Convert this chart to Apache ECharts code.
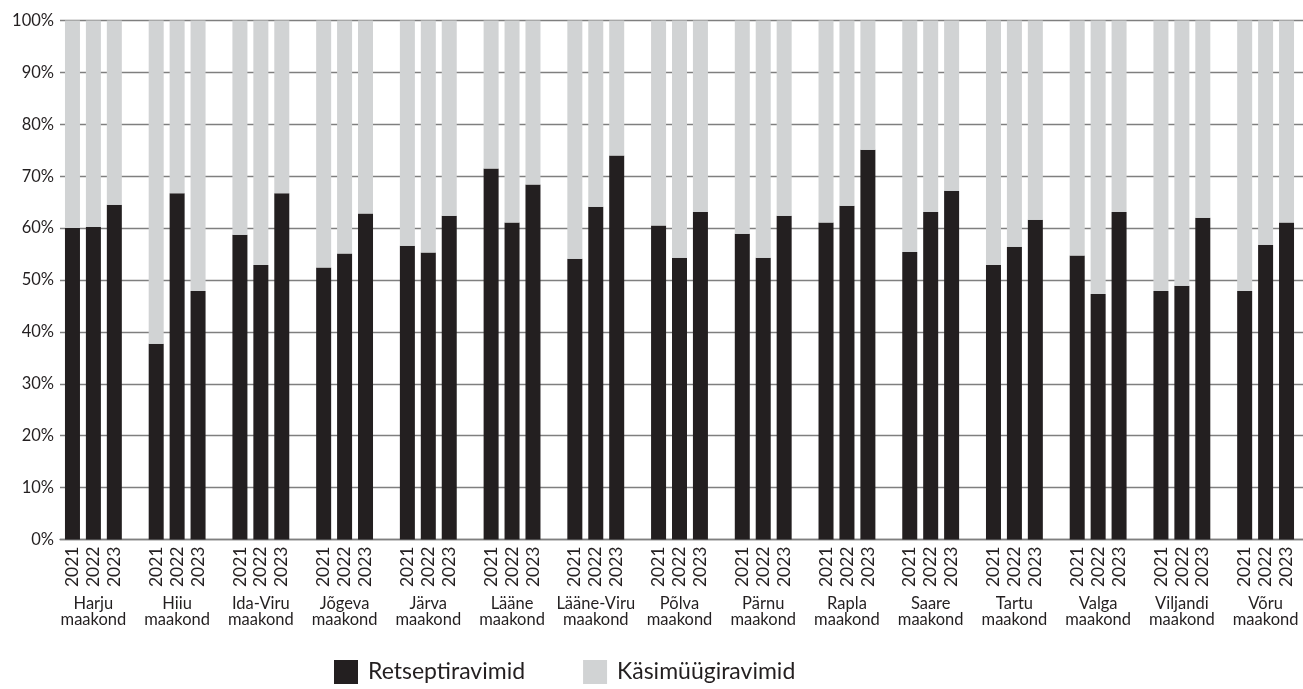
<!DOCTYPE html>
<html>
<head>
<meta charset="utf-8">
<script src="https://cdn.jsdelivr.net/npm/echarts@6/dist/echarts.min.js"></script>
<style>
  html, body { margin: 0; padding: 0; background: #ffffff; }
  #chart { width: 1303px; height: 689px; }
</style>
</head>
<body>
<div id="chart"></div>
<script>
// ---- data ----
const counties = ["Harju\nmaakond", "Hiiu\nmaakond", "Ida-Viru\nmaakond", "Jõgeva\nmaakond", "Järva\nmaakond",
  "Lääne\nmaakond", "Lääne-Viru\nmaakond", "Põlva\nmaakond", "Pärnu\nmaakond", "Rapla\nmaakond",
  "Saare\nmaakond", "Tartu\nmaakond", "Valga\nmaakond", "Viljandi\nmaakond", "Võru\nmaakond"];
const years = ["2021", "2022", "2023"];
const yTicks = [0, 10, 20, 30, 40, 50, 60, 70, 80, 90, 100];
// Retseptiravimid (%), per county: 2021, 2022, 2023
const retsept = [
  60.0, 60.2, 64.5,
  37.7, 66.7, 47.9,
  58.7, 52.9, 66.7,
  52.4, 55.1, 62.8,
  56.6, 55.3, 62.4,
  71.5, 61.1, 68.4,
  54.1, 64.1, 74.0,
  60.5, 54.3, 63.1,
  58.9, 54.3, 62.4,
  61.1, 64.3, 75.1,
  55.4, 63.1, 67.2,
  52.9, 56.4, 61.6,
  54.7, 47.3, 63.1,
  47.9, 48.9, 62.0,
  47.9, 56.8, 61.1
];
// Käsimüügiravimid (%), per county: 2021, 2022, 2023
const kasimuuk = [
  40.0, 39.8, 35.5,
  62.3, 33.3, 52.1,
  41.3, 47.1, 33.3,
  47.6, 44.9, 37.2,
  43.4, 44.7, 37.6,
  28.5, 38.9, 31.6,
  45.9, 35.9, 26.0,
  39.5, 45.7, 36.9,
  41.1, 45.7, 37.6,
  38.9, 35.7, 24.9,
  44.6, 36.9, 32.8,
  47.1, 43.6, 38.4,
  45.3, 52.7, 36.9,
  52.1, 51.1, 38.0,
  52.1, 43.2, 38.9
];
const seriesNames = ["Retseptiravimid", "Käsimüügiravimid"];

// ---- build category slots (3 years + blank gap between counties) ----
const yearCats = [], countyCats = [], retData = [], kasData = [];
counties.forEach((c, i) => {
  years.forEach((y, j) => {
    yearCats.push(y);
    countyCats.push(j === 1 ? c : "");
    retData.push(retsept[i * 3 + j]);
    kasData.push(kasimuuk[i * 3 + j]);
  });
  if (i < counties.length - 1) {
    yearCats.push("");
    countyCats.push("");
    retData.push("-");
    kasData.push("-");
  }
});

const FONT = "Lato, 'Noto Sans', sans-serif";
const TXT = "#231f20";

const chart = echarts.init(document.getElementById("chart"), null, { renderer: "canvas" });
chart.setOption({
  animation: false,
  backgroundColor: "#ffffff",
  textStyle: { fontFamily: FONT },
  grid: [
    { left: 62, right: 6, top: 20.5, bottom: 149.5 },
    { left: 60, right: 0, top: 20.5, bottom: 149.5 }
  ],
  xAxis: [
    {
      type: "category", gridIndex: 0, data: yearCats,
      axisLine: { show: false }, axisTick: { show: false },
      axisLabel: { interval: 0, rotate: 90, fontSize: 17.5, color: TXT, margin: 7, fontFamily: FONT }
    },
    {
      type: "category", gridIndex: 0, data: countyCats, position: "bottom", offset: 51,
      axisLine: { show: false }, axisTick: { show: false },
      axisLabel: { interval: 0, fontSize: 16.5, lineHeight: 16, color: TXT, margin: 5, fontFamily: FONT }
    },
    {
      type: "value", gridIndex: 1, min: 0, max: 1, position: "bottom",
      axisLine: { show: true, lineStyle: { color: "#7f7f7f", width: 1.3 } },
      axisTick: { show: false }, axisLabel: { show: false }, splitLine: { show: false }
    }
  ],
  yAxis: [
    { type: "value", gridIndex: 0, min: 0, max: 100, show: false },
    {
      type: "value", gridIndex: 1, min: yTicks[0], max: yTicks[yTicks.length - 1], interval: 10,
      axisLine: { show: false }, axisTick: { show: false },
      axisLabel: { formatter: "{value}%", fontSize: 16.5, color: TXT, margin: 6, fontFamily: FONT },
      splitLine: { show: true, lineStyle: { color: "#7f7f7f", width: 1.3 } }
    }
  ],
  legend: {
    data: seriesNames,
    left: 334, top: 660, padding: 0,
    icon: "rect", itemWidth: 24, itemHeight: 24, itemGap: 58,
    textStyle: { fontSize: 23, color: TXT, fontFamily: FONT, padding: [14, 0, 0, 5] }
  },
  series: [
    {
      name: seriesNames[0], type: "bar", stack: "s", data: retData,
      xAxisIndex: 0, yAxisIndex: 0, barWidth: 15,
      itemStyle: { color: "#231f20" }
    },
    {
      name: seriesNames[1], type: "bar", stack: "s", data: kasData,
      xAxisIndex: 0, yAxisIndex: 0, barWidth: 15,
      itemStyle: { color: "#d1d3d4" }
    }
  ]
});
</script>
</body>
</html>
